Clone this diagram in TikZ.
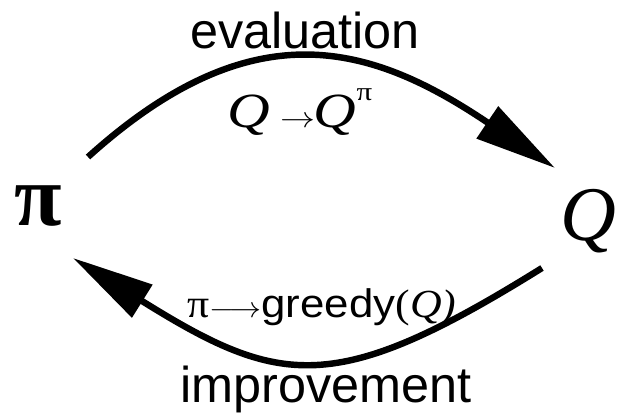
\documentclass[tikz,border=0pt]{standalone}
\usepackage{fontspec}
\setmainfont{Liberation Sans}
\newfontfamily\tms{Liberation Serif}
\usetikzlibrary{arrows.meta}

\begin{document}
\begin{tikzpicture}[x=0.03cm,y=0.03cm, every node/.style={inner sep=0pt,anchor=base},
  looparc/.style={line width=5.5pt,-{Triangle[length=2.45cm 0,width=1.12cm 0]}}]
  \useasboundingbox (0,0) rectangle (619,412);
  % the two symbols
  \node (pi) at (38,187) {\fontsize{74}{80}\selectfont\tms\bfseries π};
  \node (Q)  at (588,172) {\fontsize{66}{74}\selectfont\tms\itshape Q};
  % arc ends
  \coordinate (evalA) at (88,255);
  \coordinate (evalB) at (555,244);
  \coordinate (imprA) at (542,144);
  \coordinate (imprB) at (73,154);
  % evaluation: pi -> Q
  \draw[looparc] (evalA) .. controls (253,404) and (371,368) .. (evalB);
  % improvement: Q -> pi
  \draw[looparc] (imprA) .. controls (335,15) and (280,25) .. (imprB);
  % labels
  \node (eval) at (305,363) {\fontsize{43}{50}\selectfont evaluation};
  \node (impr) at (326,10) {\fontsize{43}{50}\selectfont improvement};
  \node (evalrule) at (300,284) {\scalebox{1.2}[1]{\fontsize{42}{46}\selectfont{\tms\itshape Q}\,$\rightarrow$\kern-1pt{\tms\itshape Q}\raisebox{0.55em}{\fontsize{22}{24}\selectfont\tms π}}};
  \node (imprrule) at (322,95) {\scalebox{1.1}[1]{\fontsize{34}{38}\selectfont{\tms π}$\longrightarrow$greedy{\tms(\itshape Q\/)}}};
\end{tikzpicture}
\end{document}
